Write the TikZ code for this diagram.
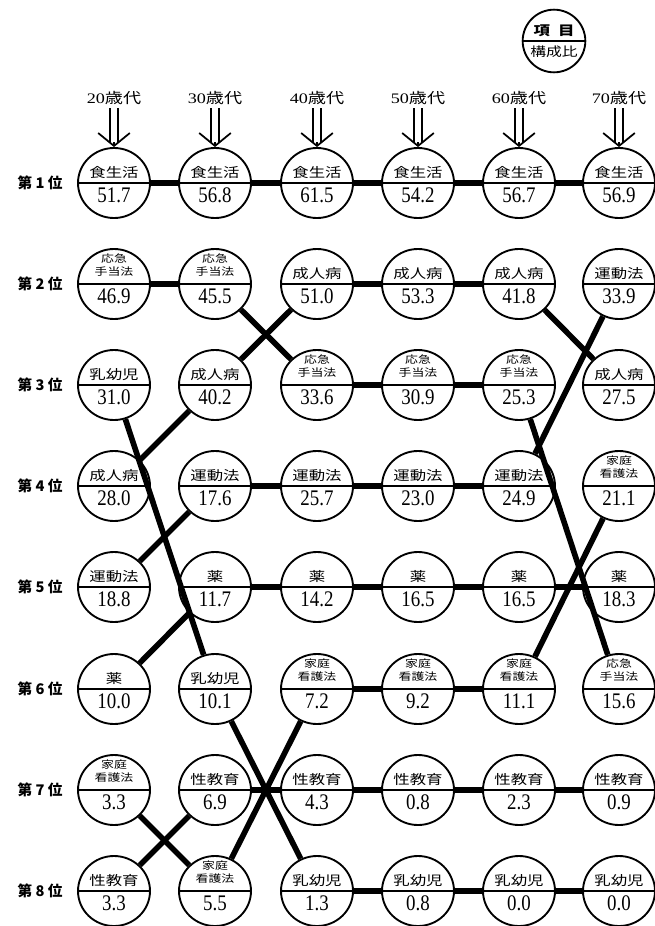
\documentclass[tikz,border=0pt]{standalone}
\usepackage{fontspec}
\usepackage{graphicx}
\usetikzlibrary{shapes.geometric,arrows.meta}
\setmainfont{Liberation Serif}
\newfontfamily\jp{Noto Sans CJK JP}
\newcommand{\twoline}[2]{\begin{tabular}[b]{@{}c@{}}#1\\#2\end{tabular}}
\newcommand{\rankcell}[5][word]{%
  \node[item] (#2) at (#3) {};
  \node[#1] (#2w) at (#2.center) {\scalebox{1}[0.8]{#4}};
  \node[num] (#2n) at (#2.center) {\scalebox{0.85}[1]{#5}};}
\begin{document}
\begin{tikzpicture}[x={(0.03cm,0cm)},y={(0cm,-0.03cm)},
  item/.style={ellipse, draw, line width=1.6pt, minimum width=2.16cm, minimum height=2.1cm, inner sep=0pt,
    path picture={\draw[line width=2.2pt] (path picture bounding box.west) -- (path picture bounding box.east);}},
  key/.style={item, circle, minimum size=1.88cm},
  word/.style={anchor=south, inner sep=0pt, yshift=3.5pt, font=\jp\fontsize{14}{14}\selectfont},
  wordtwo/.style={word, yshift=0.5pt, font=\jp\fontsize{11}{13.5}\selectfont},
  num/.style={anchor=north, inner sep=0pt, yshift=-4pt, font=\fontsize{19}{19}\selectfont},
  rank/.style={font=\jp\bfseries\fontsize{12.5}{12.5}\selectfont},
  age/.style={inner sep=3pt, font=\fontsize{15.5}{15.5}\selectfont},
  link/.style={line width=4.8pt},
  pointer/.style={line width=1.5pt, -{Straight Barb[length=11pt,width=27pt]}, shorten <=26pt,
    postaction={draw, -, shorten <=0pt, shorten >=4pt, double, double distance=5.5pt}}]
\useasboundingbox (0,0) rectangle (655,926);
% legend
\node[key] (key) at (554,41) {};
\node[word, font=\jp\bfseries\fontsize{14}{14}\selectfont] (keyw) at (key.center) {\scalebox{1}[0.8]{項\hspace{0.5em}目}};
\node[num, font=\jp\fontsize{13.5}{13.5}\selectfont] (keyn) at (key.center) {\scalebox{1}[0.8]{構成比}};
% age groups
\node[age] (a20) at (114,98) {\scalebox{1}[0.8]{20{\jp 歳代}}};
\node[age] (a30) at (215,98) {\scalebox{1}[0.8]{30{\jp 歳代}}};
\node[age] (a40) at (317,98) {\scalebox{1}[0.8]{40{\jp 歳代}}};
\node[age] (a50) at (418,98) {\scalebox{1}[0.8]{50{\jp 歳代}}};
\node[age] (a60) at (519,98) {\scalebox{1}[0.8]{60{\jp 歳代}}};
\node[age] (a70) at (619,98) {\scalebox{1}[0.8]{70{\jp 歳代}}};
% ranks
\node[rank] (rank1) at (40,183) {第 1 位};
\node[rank] (rank2) at (40,284) {第 2 位};
\node[rank] (rank3) at (40,385) {第 3 位};
\node[rank] (rank4) at (40,486) {第 4 位};
\node[rank] (rank5) at (40,587) {第 5 位};
\node[rank] (rank6) at (40,689) {第 6 位};
\node[rank] (rank7) at (40,790) {第 7 位};
\node[rank] (rank8) at (40,891) {第 8 位};
% 20歳代
\rankcell{d20r1}{114,183}{食生活}{51.7}
\rankcell[wordtwo]{d20r2}{114,284}{\twoline{応急}{手当法}}{46.9}
\rankcell{d20r3}{114,385}{乳幼児}{31.0}
\rankcell{d20r4}{114,486}{成人病}{28.0}
\rankcell{d20r5}{114,587}{運動法}{18.8}
\rankcell{d20r6}{114,689}{薬}{10.0}
\rankcell[wordtwo]{d20r7}{114,790}{\twoline{家庭}{看護法}}{3.3}
\rankcell{d20r8}{114,891}{性教育}{3.3}
% 30歳代
\rankcell{d30r1}{215,183}{食生活}{56.8}
\rankcell[wordtwo]{d30r2}{215,284}{\twoline{応急}{手当法}}{45.5}
\rankcell{d30r3}{215,385}{成人病}{40.2}
\rankcell{d30r4}{215,486}{運動法}{17.6}
\rankcell{d30r5}{215,587}{薬}{11.7}
\rankcell{d30r6}{215,689}{乳幼児}{10.1}
\rankcell{d30r7}{215,790}{性教育}{6.9}
\rankcell[wordtwo]{d30r8}{215,891}{\twoline{家庭}{看護法}}{5.5}
% 40歳代
\rankcell{d40r1}{317,183}{食生活}{61.5}
\rankcell{d40r2}{317,284}{成人病}{51.0}
\rankcell[wordtwo]{d40r3}{317,385}{\twoline{応急}{手当法}}{33.6}
\rankcell{d40r4}{317,486}{運動法}{25.7}
\rankcell{d40r5}{317,587}{薬}{14.2}
\rankcell[wordtwo]{d40r6}{317,689}{\twoline{家庭}{看護法}}{7.2}
\rankcell{d40r7}{317,790}{性教育}{4.3}
\rankcell{d40r8}{317,891}{乳幼児}{1.3}
% 50歳代
\rankcell{d50r1}{418,183}{食生活}{54.2}
\rankcell{d50r2}{418,284}{成人病}{53.3}
\rankcell[wordtwo]{d50r3}{418,385}{\twoline{応急}{手当法}}{30.9}
\rankcell{d50r4}{418,486}{運動法}{23.0}
\rankcell{d50r5}{418,587}{薬}{16.5}
\rankcell[wordtwo]{d50r6}{418,689}{\twoline{家庭}{看護法}}{9.2}
\rankcell{d50r7}{418,790}{性教育}{0.8}
\rankcell{d50r8}{418,891}{乳幼児}{0.8}
% 60歳代
\rankcell{d60r1}{519,183}{食生活}{56.7}
\rankcell{d60r2}{519,284}{成人病}{41.8}
\rankcell[wordtwo]{d60r3}{519,385}{\twoline{応急}{手当法}}{25.3}
\rankcell{d60r4}{519,486}{運動法}{24.9}
\rankcell{d60r5}{519,587}{薬}{16.5}
\rankcell[wordtwo]{d60r6}{519,689}{\twoline{家庭}{看護法}}{11.1}
\rankcell{d60r7}{519,790}{性教育}{2.3}
\rankcell{d60r8}{519,891}{乳幼児}{0.0}
% 70歳代
\rankcell{d70r1}{619,183}{食生活}{56.9}
\rankcell{d70r2}{619,284}{運動法}{33.9}
\rankcell{d70r3}{619,385}{成人病}{27.5}
\rankcell[wordtwo]{d70r4}{619,486}{\twoline{家庭}{看護法}}{21.1}
\rankcell{d70r5}{619,587}{薬}{18.3}
\rankcell[wordtwo]{d70r6}{619,689}{\twoline{応急}{手当法}}{15.6}
\rankcell{d70r7}{619,790}{性教育}{0.9}
\rankcell{d70r8}{619,891}{乳幼児}{0.0}
% arrows
\draw[pointer] (a20) -- (d20r1);
\draw[pointer] (a30) -- (d30r1);
\draw[pointer] (a40) -- (d40r1);
\draw[pointer] (a50) -- (d50r1);
\draw[pointer] (a60) -- (d60r1);
\draw[pointer] (a70) -- (d70r1);
% items across the ages
\draw[link] (d20r1) -- (d30r1) -- (d40r1) -- (d50r1) -- (d60r1) -- (d70r1);
\draw[link] (d20r2) -- (d30r2) -- (d40r3) -- (d50r3) -- (d60r3) -- (d70r6);
\draw[link] (d20r3) -- (d30r6) -- (d40r8) -- (d50r8) -- (d60r8) -- (d70r8);
\draw[link] (d20r4) -- (d30r3) -- (d40r2) -- (d50r2) -- (d60r2) -- (d70r3);
\draw[link] (d20r5) -- (d30r4) -- (d40r4) -- (d50r4) -- (d60r4) -- (d70r2);
\draw[link] (d20r6) -- (d30r5) -- (d40r5) -- (d50r5) -- (d60r5) -- (d70r5);
\draw[link] (d20r7) -- (d30r8) -- (d40r6) -- (d50r6) -- (d60r6) -- (d70r4);
\draw[link] (d20r8) -- (d30r7) -- (d40r7) -- (d50r7) -- (d60r7) -- (d70r7);
\end{tikzpicture}
\end{document}
